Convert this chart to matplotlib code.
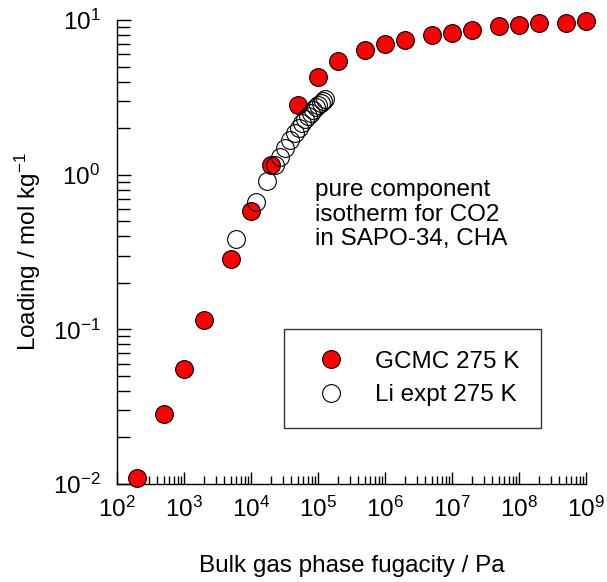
import numpy as np
import matplotlib
matplotlib.use('Agg')
import matplotlib.pyplot as plt
from matplotlib.ticker import LogLocator, FixedLocator, NullFormatter

plt.rcParams['font.family'] = ['Liberation Sans', 'DejaVu Sans']
plt.rcParams['mathtext.default'] = 'regular'

# GCMC simulations, 275 K
f_gcmc = [2e2, 5e2, 1e3, 2e3, 5e3, 1e4, 2e4, 5e4, 1e5, 2e5, 5e5, 1e6, 2e6,
          5e6, 1e7, 2e7, 5e7, 1e8, 2e8, 5e8, 1e9]
q_gcmc = [0.011, 0.0284, 0.0555, 0.115, 0.285, 0.582, 1.155, 2.82, 4.28, 5.43,
          6.4, 7.0, 7.4, 8.0, 8.24, 8.6, 9.15, 9.25, 9.57, 9.6, 9.9]

# Li experimental data, 275 K
f_expt = [5.9e3, 1.17e4, 1.71e4, 2.28e4, 2.71e4, 3.2e4, 3.8e4, 4.5e4, 5.2e4,
          5.8e4, 6.5e4, 7.2e4, 7.9e4, 8.5e4, 9.2e4, 1.01e5, 1.1e5, 1.19e5, 1.27e5]
q_expt = [0.384, 0.669, 0.915, 1.155, 1.307, 1.48, 1.676, 1.852, 2.01, 2.15,
          2.28, 2.40, 2.51, 2.62, 2.73, 2.82, 2.92, 3.01, 3.08]

fs = 17.5

fig = plt.figure(figsize=(6.07, 5.82), dpi=100)
ax = fig.add_axes([0.1928, 0.1684, 0.7726, 0.7972])

ax.plot(f_gcmc, q_gcmc, 'o', ms=12.8, mfc='red', mec='black', mew=0.8,
        clip_on=False, zorder=3, label='GCMC 275 K')
ax.plot(f_expt, q_expt, 'o', ms=12.8, mfc='none', mec='black', mew=0.8,
        clip_on=False, zorder=4, label='Li expt 275 K')

ax.set_xscale('log')
ax.set_yscale('log')
ax.set_xlim(1e2, 1e9)
ax.set_ylim(1e-2, 1e1)

for s in ['top', 'right']:
    ax.spines[s].set_visible(False)
for s in ['left', 'bottom']:
    ax.spines[s].set_linewidth(1.0)

ax.xaxis.set_major_locator(FixedLocator([10.0**k for k in range(2, 10)]))
ax.yaxis.set_major_locator(FixedLocator([10.0**k for k in range(-2, 2)]))
ax.xaxis.set_minor_locator(LogLocator(base=10, subs=np.arange(2, 10), numticks=20))
ax.yaxis.set_minor_locator(LogLocator(base=10, subs=np.arange(2, 10), numticks=20))
ax.xaxis.set_minor_formatter(NullFormatter())
ax.yaxis.set_minor_formatter(NullFormatter())
ax.set_xticklabels(['$10^{%d}$' % k for k in range(2, 10)])
ax.set_yticklabels(['$10^{%d}$' % k for k in range(-2, 2)])

ax.tick_params(axis='x', which='major', direction='in', length=9, width=1, pad=9, labelsize=fs)
ax.tick_params(axis='x', which='minor', direction='in', length=6, width=1)
ax.tick_params(axis='y', which='major', direction='in', length=10, width=1, pad=12, labelsize=fs)
ax.tick_params(axis='y', which='minor', direction='in', length=9, width=1)

ax.set_xlabel('Bulk gas phase fugacity / Pa', fontsize=fs, labelpad=24)
ax.set_ylabel('Loading / mol kg$^{-1}$', fontsize=fs, labelpad=7)

ax.text(0.423, 0.58, 'pure component\nisotherm for CO2\nin SAPO-34, CHA',
        transform=ax.transAxes, fontsize=fs, va='center', ha='left', linespacing=1.15)

leg = ax.legend(loc='upper left', bbox_to_anchor=(0.356, 0.334), borderaxespad=0,
                fontsize=fs, frameon=True, fancybox=False, edgecolor='black',
                borderpad=0.9, handlelength=2.1, handletextpad=0.75, labelspacing=0.46,
                numpoints=1)
leg.get_frame().set_linewidth(1.0)

fig.savefig('out.png', dpi=100)
